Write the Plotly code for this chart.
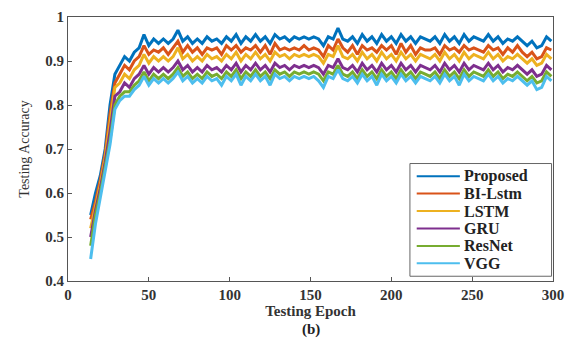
import plotly.graph_objects as go

epochs = list(range(14, 300, 3))

proposed = [0.55, 0.60, 0.64, 0.70, 0.80, 0.87, 0.89, 0.91, 0.90, 0.92, 0.93,
            0.96, 0.935, 0.95, 0.94, 0.95, 0.94, 0.95, 0.97, 0.945, 0.955,
            0.94, 0.95, 0.94, 0.955, 0.945, 0.95, 0.94, 0.955, 0.945, 0.96,
            0.94, 0.955, 0.945, 0.96, 0.945, 0.955, 0.94, 0.96, 0.95, 0.955,
            0.945, 0.955, 0.95, 0.955, 0.95, 0.955, 0.95, 0.935, 0.955, 0.95,
            0.975, 0.95, 0.945, 0.955, 0.94, 0.96, 0.945, 0.955, 0.94, 0.96,
            0.945, 0.955, 0.94, 0.96, 0.945, 0.955, 0.94, 0.955, 0.95, 0.945,
            0.955, 0.94, 0.96, 0.945, 0.955, 0.94, 0.96, 0.945, 0.955, 0.95,
            0.945, 0.96, 0.945, 0.955, 0.94, 0.95, 0.945, 0.955, 0.945, 0.935,
            0.945, 0.93, 0.935, 0.955, 0.945]

bi_lstm = [0.54, 0.58, 0.63, 0.69, 0.78, 0.85, 0.87, 0.89, 0.88, 0.90, 0.91,
           0.935, 0.915, 0.925, 0.92, 0.93, 0.915, 0.93, 0.945, 0.92, 0.935,
           0.92, 0.93, 0.915, 0.93, 0.925, 0.93, 0.915, 0.935, 0.925, 0.935,
           0.92, 0.93, 0.925, 0.935, 0.92, 0.935, 0.915, 0.94, 0.925, 0.93,
           0.925, 0.93, 0.925, 0.935, 0.925, 0.93, 0.925, 0.91, 0.935, 0.925,
           0.95, 0.93, 0.92, 0.935, 0.915, 0.935, 0.925, 0.93, 0.92, 0.935,
           0.925, 0.935, 0.915, 0.94, 0.92, 0.935, 0.915, 0.93, 0.925, 0.925,
           0.93, 0.915, 0.935, 0.925, 0.93, 0.92, 0.935, 0.925, 0.93, 0.925,
           0.92, 0.935, 0.925, 0.93, 0.915, 0.93, 0.92, 0.935, 0.92, 0.91,
           0.92, 0.905, 0.91, 0.93, 0.925]

lstm = [0.52, 0.57, 0.62, 0.68, 0.76, 0.84, 0.85, 0.87, 0.86, 0.88, 0.89,
        0.915, 0.895, 0.91, 0.90, 0.91, 0.90, 0.91, 0.93, 0.905, 0.915,
        0.90, 0.91, 0.90, 0.915, 0.905, 0.91, 0.90, 0.915, 0.905, 0.92,
        0.90, 0.915, 0.905, 0.92, 0.905, 0.915, 0.90, 0.92, 0.91, 0.915,
        0.905, 0.915, 0.91, 0.915, 0.91, 0.915, 0.91, 0.895, 0.915, 0.91,
        0.935, 0.91, 0.905, 0.915, 0.90, 0.92, 0.905, 0.915, 0.90, 0.92,
        0.905, 0.915, 0.90, 0.92, 0.905, 0.915, 0.90, 0.915, 0.91, 0.905,
        0.915, 0.90, 0.92, 0.905, 0.915, 0.90, 0.92, 0.905, 0.915, 0.91,
        0.905, 0.92, 0.905, 0.915, 0.90, 0.91, 0.905, 0.915, 0.905, 0.895,
        0.905, 0.89, 0.895, 0.915, 0.905]

gru = [0.50, 0.56, 0.61, 0.67, 0.74, 0.82, 0.83, 0.85, 0.84, 0.86, 0.87,
       0.89, 0.87, 0.885, 0.875, 0.885, 0.875, 0.885, 0.90, 0.88, 0.89,
       0.875, 0.885, 0.875, 0.89, 0.88, 0.885, 0.875, 0.89, 0.88, 0.895,
       0.875, 0.89, 0.88, 0.895, 0.88, 0.89, 0.875, 0.895, 0.885, 0.89,
       0.88, 0.89, 0.885, 0.89, 0.885, 0.89, 0.885, 0.87, 0.89, 0.885,
       0.905, 0.885, 0.88, 0.89, 0.875, 0.895, 0.88, 0.89, 0.875, 0.895,
       0.88, 0.89, 0.875, 0.895, 0.88, 0.89, 0.875, 0.89, 0.885, 0.88,
       0.89, 0.875, 0.895, 0.88, 0.89, 0.875, 0.895, 0.88, 0.89, 0.885,
       0.88, 0.895, 0.88, 0.89, 0.875, 0.885, 0.88, 0.89, 0.88, 0.87,
       0.88, 0.865, 0.87, 0.89, 0.88]

resnet = [0.48, 0.55, 0.60, 0.66, 0.72, 0.80, 0.82, 0.83, 0.83, 0.845, 0.855,
          0.875, 0.855, 0.87, 0.86, 0.87, 0.86, 0.87, 0.885, 0.865, 0.875,
          0.86, 0.87, 0.86, 0.875, 0.865, 0.87, 0.86, 0.875, 0.865, 0.88,
          0.86, 0.875, 0.865, 0.88, 0.865, 0.875, 0.86, 0.88, 0.87, 0.875,
          0.865, 0.875, 0.87, 0.875, 0.87, 0.875, 0.87, 0.855, 0.875, 0.87,
          0.89, 0.87, 0.865, 0.875, 0.86, 0.88, 0.865, 0.875, 0.86, 0.88,
          0.865, 0.875, 0.86, 0.88, 0.865, 0.875, 0.86, 0.875, 0.87, 0.865,
          0.875, 0.86, 0.88, 0.865, 0.875, 0.86, 0.88, 0.865, 0.875, 0.87,
          0.865, 0.88, 0.865, 0.875, 0.86, 0.87, 0.865, 0.875, 0.865, 0.855,
          0.865, 0.85, 0.855, 0.875, 0.865]

vgg = [0.45, 0.53, 0.59, 0.65, 0.71, 0.79, 0.81, 0.82, 0.82, 0.835, 0.845,
       0.865, 0.845, 0.86, 0.85, 0.86, 0.85, 0.86, 0.875, 0.855, 0.865,
       0.85, 0.86, 0.85, 0.865, 0.855, 0.86, 0.845, 0.865, 0.855, 0.87,
       0.845, 0.865, 0.855, 0.87, 0.855, 0.865, 0.845, 0.87, 0.86, 0.865,
       0.855, 0.865, 0.86, 0.865, 0.86, 0.865, 0.855, 0.84, 0.865, 0.86,
       0.88, 0.86, 0.855, 0.865, 0.85, 0.87, 0.855, 0.865, 0.845, 0.87,
       0.855, 0.865, 0.85, 0.87, 0.855, 0.865, 0.85, 0.865, 0.86, 0.855,
       0.865, 0.85, 0.87, 0.855, 0.865, 0.845, 0.87, 0.855, 0.865, 0.86,
       0.855, 0.87, 0.855, 0.865, 0.85, 0.86, 0.855, 0.865, 0.855, 0.845,
       0.855, 0.835, 0.84, 0.865, 0.855]

series_names = ["Proposed", "BI-Lstm", "LSTM", "GRU", "ResNet", "VGG"]
series_values = [proposed, bi_lstm, lstm, gru, resnet, vgg]
colors = ["#0072BD", "#D95319", "#EDB120", "#7E2F8E", "#77AC30", "#4DBEEE"]

x_ticks = [0, 50, 100, 150, 200, 250, 300]
y_ticks = [0.4, 0.5, 0.6, 0.7, 0.8, 0.9, 1.0]
y_tick_text = ["0.4", "0.5", "0.6", "0.7", "0.8", "0.9", "1"]

fig = go.Figure()
for name, vals, c in zip(series_names, series_values, colors):
    fig.add_trace(go.Scatter(x=epochs, y=vals, mode="lines", name=name,
                             line=dict(color=c, width=3), showlegend=False))

serif = "Liberation Serif, Times New Roman, serif"
axis_common = dict(showline=True, linecolor="#555555", linewidth=1, mirror=True,
                   ticks="inside", ticklen=4, tickcolor="#555555",
                   showgrid=False, zeroline=False,
                   tickfont=dict(family=serif, size=15, color="#333333", weight="bold"))

fig.update_layout(
    width=574, height=343,
    margin=dict(l=68, r=21, t=9, b=62),
    paper_bgcolor="white", plot_bgcolor="white",
    xaxis=dict(range=[0, 300], tickvals=x_ticks, **axis_common,
               title=dict(text="Testing Epoch", standoff=2,
                          font=dict(family=serif, size=15, color="#333333", weight="bold"))),
    yaxis=dict(range=[0.4, 1.0], tickvals=y_ticks, ticktext=y_tick_text, **axis_common,
               title=dict(text="Testing Accuracy", standoff=12,
                          font=dict(family=serif, size=14, color="#333333"))),
)

# Legend box (drawn as in the original MATLAB figure)
leg_x0, leg_x1, leg_y0, leg_y1 = 0.705, 0.997, 0.018, 0.445
fig.add_shape(type="rect", xref="paper", yref="paper", x0=leg_x0, x1=leg_x1,
              y0=leg_y0, y1=leg_y1, line=dict(color="#666666", width=1),
              fillcolor="white", layer="above")
row_top, row_step = 0.397, 0.066
for k, (name, c) in enumerate(zip(series_names, colors)):
    yy = row_top - k * row_step
    fig.add_shape(type="line", xref="paper", yref="paper", x0=0.719, x1=0.808,
                  y0=yy, y1=yy, line=dict(color=c, width=2), layer="above")
    fig.add_annotation(text=name, xref="paper", yref="paper", x=0.813, y=yy,
                       xanchor="left", yanchor="middle", showarrow=False,
                       font=dict(family=serif, size=16, color="#222222", weight="bold"))

fig.add_annotation(text="(b)", xref="paper", yref="paper", x=0.5, y=-0.145,
                   yanchor="top", showarrow=False,
                   font=dict(family=serif, size=15, color="#222222", weight="bold"))

fig.write_html("out.html")
